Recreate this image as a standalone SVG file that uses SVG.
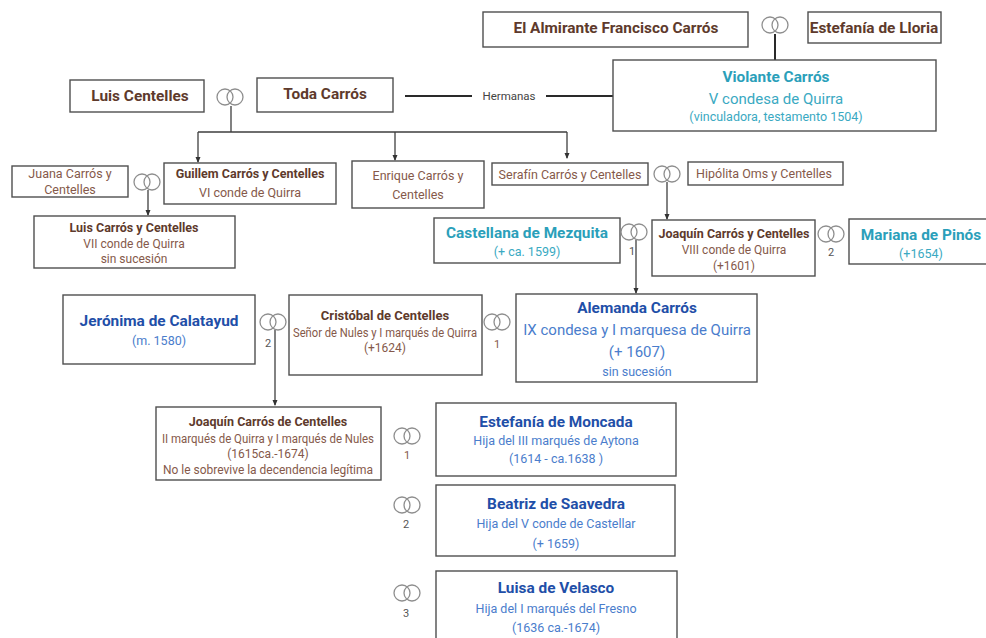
<svg xmlns="http://www.w3.org/2000/svg" width="986" height="638" viewBox="0 0 986 638">
<defs>
<style>
text{font-family:Roboto,"Liberation Sans",sans-serif;text-anchor:middle}
.box{fill:#fff;stroke:#4f4f4f;stroke-width:1.4}
.ring{fill:none;stroke:#8e8e8e;stroke-width:1.3}
.ln{fill:none;stroke:#3f3f3f;stroke-width:1.3}
.thick{fill:none;stroke:#2a2a2a;stroke-width:2}
.nb{font-size:15.4px;font-weight:bold;fill:#5e3a2c}
.sb{font-size:12.5px;font-weight:bold;fill:#5e3a2c}
.br{font-size:12.5px;fill:#85594a}
.brs{font-size:12px;fill:#85594a}
.tb{font-size:15.4px;font-weight:bold;fill:#2b9fba}
.tr{font-size:12.5px;fill:#3aa9c2}
.bb{font-size:15.4px;font-weight:bold;fill:#1f4fa8}
.bl{font-size:12.5px;fill:#4a7dcc}
.num{font-size:11px;fill:#555}
.lab{font-size:11.5px;fill:#444}
</style>
<marker id="ah" viewBox="0 0 6 6" refX="5" refY="3" markerWidth="6" markerHeight="6" markerUnits="userSpaceOnUse" orient="auto"><path d="M0,0.5 L6,3 L0,5.5 z" fill="#333"/></marker>
<g id="rings"><circle class="ring" cx="-5" cy="0" r="8"/><circle class="ring" cx="5" cy="0" r="8"/></g>
</defs>

<g id="connectors">
<line class="thick" x1="775" y1="34" x2="775" y2="60"/>
<line class="thick" x1="405" y1="96" x2="472" y2="96"/>
<line class="thick" x1="546" y1="96" x2="613" y2="96"/>
<path class="ln" d="M231,106 V132 M198,132 H567"/>
<line class="ln" x1="198" y1="132" x2="198" y2="162" marker-end="url(#ah)"/>
<line class="ln" x1="395" y1="132" x2="395" y2="160" marker-end="url(#ah)"/>
<line class="ln" x1="567" y1="132" x2="567" y2="158" marker-end="url(#ah)"/>
<line class="ln" x1="148" y1="190" x2="148" y2="215" marker-end="url(#ah)"/>
<line class="ln" x1="667" y1="182" x2="667" y2="219" marker-end="url(#ah)"/>
<line class="ln" x1="636" y1="240" x2="636" y2="293" marker-end="url(#ah)"/>
<line class="ln" x1="275" y1="330" x2="275" y2="405" marker-end="url(#ah)"/>
</g>

<g id="almirante"><rect class="box" x="483" y="12" width="265" height="35"/><text class="nb" x="616" y="33">El Almirante Francisco Carrós</text></g>
<g id="m-almirante"><use href="#rings" x="775" y="25"/></g>
<g id="estefania-lloria"><rect class="box" x="808" y="12" width="133" height="31"/><text class="nb" x="874" y="33">Estefanía de Lloria</text></g>

<g id="violante"><rect class="box" x="613" y="60" width="323" height="71"/>
<text class="tb" x="776" y="82">Violante Carrós</text>
<text class="tr" x="776" y="104" style="font-size:15px">V condesa de Quirra</text>
<text class="tr" x="776" y="121">(vinculadora, testamento 1504)</text></g>

<g id="luis-centelles"><rect class="box" x="70" y="80" width="134" height="32"/><text class="nb" x="140" y="101">Luis Centelles</text></g>
<g id="m-luis-toda"><use href="#rings" x="230" y="97"/></g>
<g id="toda"><rect class="box" x="257" y="78" width="136" height="34"/><text class="nb" x="325" y="99">Toda Carrós</text></g>
<g id="hermanas"><text class="lab" x="509" y="100">Hermanas</text></g>

<g id="juana"><rect class="box" x="12" y="166" width="116" height="31"/>
<text class="br" x="70" y="178">Juana Carrós y</text><text class="br" x="70" y="194">Centelles</text></g>
<g id="m-juana"><use href="#rings" x="147" y="182"/></g>
<g id="guillem"><rect class="box" x="164" y="163" width="172" height="41"/>
<text class="sb" x="250" y="178">Guillem Carrós y  Centelles</text>
<text class="br" x="250" y="197">VI conde de Quirra</text></g>
<g id="enrique"><rect class="box" x="352" y="161" width="132" height="47"/>
<text class="br" x="418" y="180">Enrique Carrós y</text><text class="br" x="418" y="199">Centelles</text></g>
<g id="serafin"><rect class="box" x="492" y="163" width="156" height="22"/>
<text class="br" x="570" y="179">Serafín Carrós y  Centelles</text></g>
<g id="m-serafin"><use href="#rings" x="667" y="174"/></g>
<g id="hipolita"><rect class="box" x="688" y="162" width="155" height="23"/>
<text class="br" x="764" y="178">Hipólita Oms y Centelles</text></g>

<g id="luis-carros"><rect class="box" x="34" y="216" width="201" height="52"/>
<text class="sb" x="134" y="232">Luis Carrós y  Centelles</text>
<text class="brs" x="134" y="248">VII conde de Quirra</text>
<text class="brs" x="134" y="263">sin sucesión</text></g>

<g id="castellana"><rect class="box" x="434" y="218" width="186" height="45"/>
<text class="tb" x="527" y="238">Castellana de Mezquita</text>
<text class="tr" x="527" y="256">(+ ca. 1599)</text></g>
<g id="m-castellana"><use href="#rings" x="634" y="232"/><text class="num" x="632" y="255">1</text></g>
<g id="joaquin-viii"><rect class="box" x="652" y="220" width="163" height="56"/>
<text class="sb" x="734" y="238">Joaquín Carrós y Centelles</text>
<text class="brs" x="734" y="254">VIII conde de Quirra</text>
<text class="brs" x="734" y="270">(+1601)</text></g>
<g id="m-mariana"><use href="#rings" x="831" y="234"/><text class="num" x="831" y="256">2</text></g>
<g id="mariana"><rect class="box" x="849" y="219" width="145" height="45"/>
<text class="tb" x="921" y="240">Mariana de Pinós</text>
<text class="tr" x="921" y="258">(+1654)</text></g>

<g id="jeronima"><rect class="box" x="63" y="295" width="192" height="69"/>
<text class="bb" x="159" y="326">Jerónima de Calatayud</text>
<text class="bl" x="159" y="345">(m. 1580)</text></g>
<g id="m-jeronima"><use href="#rings" x="273" y="322"/><text class="num" x="268" y="347">2</text></g>
<g id="cristobal"><rect class="box" x="289" y="295" width="193" height="80"/>
<text class="sb" x="385" y="320" style="font-size:13px">Cristóbal de Centelles</text>
<text class="brs" x="385" y="337" textLength="184" lengthAdjust="spacingAndGlyphs">Señor de Nules y I marqués de Quirra</text>
<text class="brs" x="385" y="352">(+1624)</text></g>
<g id="m-alemanda"><use href="#rings" x="497" y="322"/><text class="num" x="497" y="348" style="fill:#85594a">1</text></g>
<g id="alemanda"><rect class="box" x="516" y="294" width="241" height="88"/>
<text class="bb" x="637" y="313">Alemanda Carrós</text>
<text class="bl" x="637" y="335" style="font-size:15px">IX condesa y I marquesa de Quirra</text>
<text class="bl" x="637" y="357" style="font-size:15px">(+ 1607)</text>
<text class="bl" x="637" y="376">sin sucesión</text></g>

<g id="joaquin-ii"><rect class="box" x="156" y="407" width="225" height="73"/>
<text class="sb" x="268" y="426">Joaquín Carrós  de Centelles</text>
<text class="brs" x="268" y="443" textLength="212" lengthAdjust="spacingAndGlyphs">II marqués de Quirra y I marqués de Nules</text>
<text class="brs" x="268" y="458">(1615ca.-1674)</text>
<text class="brs" x="268" y="474" textLength="210" lengthAdjust="spacingAndGlyphs">No le sobrevive la decendencia legítima</text></g>
<g id="m-moncada"><use href="#rings" x="407" y="436"/><text class="num" x="407" y="459" style="fill:#85594a">1</text></g>
<g id="moncada"><rect class="box" x="436" y="403" width="240" height="73"/>
<text class="bb" x="556" y="427">Estefanía de Moncada</text>
<text class="bl" x="556" y="445">Hija del III marqués de Aytona</text>
<text class="bl" x="556" y="463">(1614 - ca.1638 )</text></g>
<g id="m-saavedra"><use href="#rings" x="407" y="505"/><text class="num" x="406" y="528">2</text></g>
<g id="saavedra"><rect class="box" x="436" y="485" width="239" height="71"/>
<text class="bb" x="556" y="509">Beatriz de Saavedra</text>
<text class="bl" x="556" y="528">Hija del V conde de Castellar</text>
<text class="bl" x="556" y="548">(+ 1659)</text></g>
<g id="m-velasco"><use href="#rings" x="407" y="593"/><text class="num" x="406" y="617">3</text></g>
<g id="velasco"><rect class="box" x="436" y="571" width="241" height="75"/>
<text class="bb" x="556" y="593">Luisa de Velasco</text>
<text class="bl" x="556" y="613">Hija del I marqués del Fresno</text>
<text class="bl" x="556" y="632">(1636 ca.-1674)</text></g>
</svg>
